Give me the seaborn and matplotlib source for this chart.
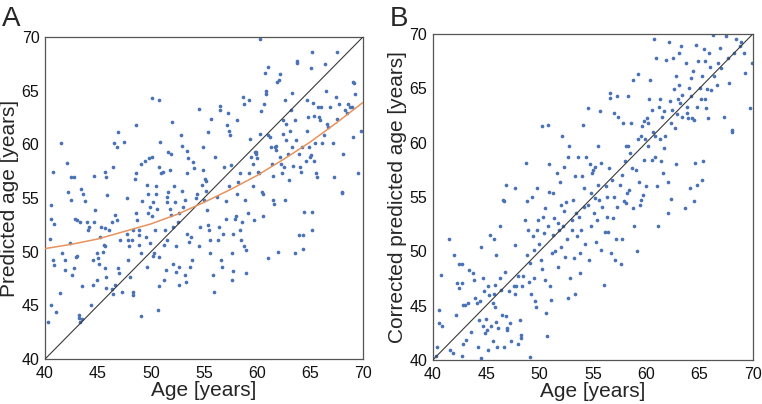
import matplotlib
matplotlib.use("Agg")
import matplotlib.pyplot as plt
import pandas as pd
import seaborn as sns

sns.set_style("white")
plt.rcParams['font.family'] = ['Liberation Sans', 'DejaVu Sans']

# Panel A: true age vs predicted age
age_a = [40.3, 40.5, 40.6, 40.8, 40.9, 40.6, 40.8, 40.9, 40.6, 41.0,
         41.5, 41.4, 41.6, 41.9, 41.9, 42.1, 42.2, 42.4, 42.5, 42.5,
         42.7, 42.6, 42.7, 42.8, 43.0, 42.9, 43.0, 43.2, 43.2, 43.3,
         43.5, 43.3, 43.4, 43.6, 43.5, 43.8, 44.0, 44.1, 44.2, 44.3,
         44.5, 44.5, 44.6, 44.7, 44.6, 44.9, 45.0, 45.1, 45.2, 44.9,
         45.3, 45.5, 45.6, 45.7, 45.7, 45.8, 45.8, 45.7, 45.8, 45.9,
         45.7, 46.0, 46.3, 46.3, 46.4, 46.6, 46.4, 46.5, 46.8, 46.9,
         46.6, 46.8, 46.9, 47.0, 47.1, 47.3, 47.5, 47.7, 47.7, 47.8,
         47.9, 47.8, 48.0, 48.2, 48.3, 48.3, 48.3, 48.5, 48.6, 48.6,
         48.6, 48.7, 48.9, 48.9, 48.9, 49.1, 49.1, 49.2, 49.1, 49.4,
         49.5, 49.6, 49.6, 49.7, 49.8, 49.7, 49.9, 49.9, 50.1, 50.1,
         50.1, 50.2, 50.2, 50.3, 50.4, 50.5, 50.5, 50.6, 50.7, 50.8,
         50.8, 50.8, 50.8, 50.9, 51.0, 51.1, 51.2, 51.2, 51.3, 51.4,
         51.5, 51.5, 51.5, 51.6, 51.6, 51.8, 51.9, 51.8, 51.9, 52.0,
         52.1, 52.1, 52.2, 52.3, 52.4, 52.4, 52.6, 52.7, 52.7, 52.7,
         52.8, 52.9, 52.9, 53.0, 53.2, 53.2, 53.3, 53.4, 53.4, 53.4,
         53.5, 53.6, 53.7, 53.8, 53.9, 54.0, 54.1, 54.3, 54.4, 54.5,
         54.5, 54.6, 54.8, 54.9, 54.9, 55.0, 55.1, 55.2, 55.2, 55.3,
         55.4, 55.4, 55.5, 55.6, 55.6, 55.7, 55.9, 56.0, 56.1, 56.2,
         56.3, 56.4, 56.5, 56.5, 56.6, 56.7, 56.8, 56.9, 57.1, 57.1,
         57.2, 57.3, 57.4, 57.4, 57.5, 57.6, 57.7, 57.7, 57.8, 57.8,
         57.9, 58.0, 58.1, 58.1, 58.2, 58.4, 58.4, 58.5, 58.6, 58.7,
         58.8, 58.8, 58.9, 59.0, 59.0, 59.2, 59.3, 59.3, 59.4, 59.5,
         59.6, 59.6, 59.7, 59.8, 59.9, 59.9, 60.0, 60.1, 60.2, 60.3,
         60.4, 60.3, 60.5, 60.6, 60.6, 60.7, 60.8, 60.9, 60.9, 61.1,
         61.1, 61.1, 61.2, 61.3, 61.4, 61.5, 61.5, 61.6, 61.7, 61.8,
         61.8, 61.9, 62.0, 62.1, 62.2, 62.2, 62.3, 62.4, 62.5, 62.5,
         62.6, 62.7, 62.7, 62.8, 62.8, 62.9, 63.0, 63.1, 63.2, 63.3,
         63.3, 63.4, 63.6, 63.6, 63.7, 63.8, 63.8, 64.0, 64.0, 64.1,
         64.2, 64.3, 64.4, 64.4, 64.5, 64.6, 64.7, 64.7, 64.8, 64.9,
         65.0, 65.1, 65.1, 65.2, 65.2, 65.2, 65.3, 65.4, 65.4, 65.5,
         65.6, 65.7, 65.8, 65.9, 66.0, 66.1, 66.2, 66.3, 66.4, 66.5,
         66.6, 66.7, 66.9, 67.2, 67.3, 67.5, 67.6, 67.6, 67.8, 68.0,
         68.0, 68.1, 68.3, 68.5, 68.6, 68.8, 69.0, 69.1, 69.2, 69.3,
         69.1, 69.6, 69.8]
pred_a = [43.5, 51.2, 54.4, 57.4, 52.6, 53.1, 49.2, 48.8, 45.0, 44.4,
          60.1, 46.2, 49.9, 48.3, 49.2, 58.3, 55.6, 50.8, 54.8, 57.0,
          57.0, 47.8, 48.5, 53.1, 53.0, 49.5, 49.6, 44.1, 43.8, 43.5,
          43.7, 52.8, 55.9, 55.4, 46.8, 54.7, 52.8, 52.0, 52.3, 45.0,
          46.9, 49.2, 52.8, 53.9, 57.1, 49.9, 49.4, 48.9, 51.4, 47.4,
          52.3, 50.0, 50.6, 50.5, 48.5, 47.7, 46.6, 57.4, 57.0, 55.3,
          52.2, 52.0, 52.8, 46.5, 46.1, 46.9, 57.9, 60.1, 59.8, 61.2,
          53.4, 53.0, 48.5, 48.0, 51.1, 46.3, 60.2, 55.0, 51.7, 51.1,
          50.5, 49.2, 47.7, 51.1, 46.3, 46.0, 52.0, 56.8, 57.3, 61.8,
          53.6, 53.0, 52.0, 51.6, 50.6, 49.9, 44.0, 54.7, 58.2, 58.5,
          51.4, 48.6, 56.2, 55.4, 58.7, 53.6, 54.2, 50.8, 58.8, 64.3,
          53.3, 54.6, 49.6, 49.9, 52.0, 56.1, 55.4, 54.0, 44.6, 46.8,
          49.5, 64.1, 57.9, 60.2, 57.3, 57.4, 47.4, 50.6, 52.0, 48.3,
          51.1, 54.6, 55.1, 55.6, 59.3, 57.6, 59.1, 54.0, 53.4, 62.1,
          52.3, 48.9, 56.1, 54.6, 48.1, 50.5, 52.8, 53.6, 46.9, 48.6,
          60.9, 59.9, 55.7, 54.2, 54.8, 47.8, 47.2, 59.4, 57.3, 51.7,
          58.7, 50.9, 48.6, 51.4, 49.2, 58.4, 57.8, 55.0, 55.4, 50.5,
          63.3, 52.3, 56.2, 57.6, 59.8, 54.8, 56.8, 56.6, 55.7, 53.9,
          61.2, 52.5, 52.0, 51.1, 49.9, 62.4, 47.8, 46.3, 58.8, 55.1,
          51.1, 52.3, 63.6, 63.2, 49.2, 48.6, 51.7, 57.9, 54.7, 53.1,
          61.8, 62.9, 61.3, 56.1, 60.9, 58.1, 49.9, 47.4, 48.2, 51.7,
          53.1, 53.3, 55.4, 62.3, 56.5, 57.3, 52.0, 51.1, 52.8, 64.4,
          63.8, 50.5, 54.8, 48.0, 50.2, 53.6, 57.3, 64.1, 60.5, 58.8,
          58.2, 56.1, 53.0, 59.3, 59.3, 59.1, 58.7, 57.4, 57.3, 61.0,
          63.1, 69.8, 55.6, 55.4, 53.3, 63.8, 66.7, 65.0, 64.7, 60.9,
          49.4, 67.2, 60.7, 59.8, 58.2, 57.1, 54.8, 54.5, 59.8, 59.5,
          59.9, 65.8, 50.0, 66.0, 58.8, 66.6, 58.2, 57.3, 62.3, 61.0,
          57.9, 54.8, 64.1, 61.9, 60.4, 59.1, 56.7, 61.3, 63.2, 64.8,
          59.8, 58.0, 49.9, 62.3, 60.4, 67.8, 67.6, 51.6, 59.1, 57.9,
          57.4, 59.8, 50.3, 51.6, 53.7, 58.5, 64.1, 61.3, 62.6, 59.8,
          58.8, 59.0, 67.1, 68.6, 53.7, 52.0, 63.9, 58.5, 62.7, 60.1,
          57.3, 57.0, 63.5, 62.6, 62.3, 63.5, 60.1, 60.9, 67.5, 65.0,
          61.9, 61.6, 63.5, 60.1, 57.0, 64.4, 68.6, 62.4, 63.8, 55.6,
          55.5, 59.1, 63.2, 62.9, 63.8, 63.5, 63.5, 65.8, 65.7, 64.7,
          60.7, 57.3, 61.3]

# fitted curve in panel A
fit_age = [40, 42.5, 45, 47.5, 50, 52.5, 55, 57.5, 60, 62.5, 65, 67.5, 70]
fit_pred = [50.3, 50.7, 51.2, 51.9, 52.6, 53.5, 54.6, 55.8, 57.1, 58.6,
            60.2, 62.0, 63.9]

# Panel B: true age vs corrected predicted age
age_b = [40.4, 40.3, 40.6, 40.6, 40.8, 40.9, 41.5, 41.6, 41.9, 42.0,
         42.2, 42.3, 42.5, 42.5, 42.7, 42.7, 42.7, 42.8, 43.0, 42.8,
         43.1, 43.3, 43.4, 43.6, 43.8, 43.9, 44.0, 44.1, 44.2, 44.3,
         44.4, 44.5, 44.5, 44.7, 44.7, 44.8, 44.9, 45.0, 45.1, 45.2,
         45.2, 45.3, 45.4, 45.5, 45.6, 45.6, 45.7, 45.7, 45.8, 45.8,
         45.9, 45.9, 46.0, 46.1, 46.3, 46.3, 46.4, 46.5, 46.6, 46.7,
         46.7, 46.8, 46.9, 46.9, 47.0, 47.0, 47.1, 47.2, 47.3, 47.6,
         47.7, 47.7, 47.7, 47.8, 48.0, 48.0, 48.2, 48.3, 48.3, 48.4,
         48.5, 48.6, 48.7, 48.8, 48.8, 48.9, 49.0, 49.1, 49.1, 49.2,
         49.3, 49.4, 49.5, 49.5, 49.6, 49.7, 49.8, 49.8, 49.9, 50.0,
         50.1, 50.2, 50.2, 50.3, 50.4, 50.5, 50.5, 50.6, 50.7, 50.8,
         50.8, 50.9, 50.9, 51.0, 51.1, 51.2, 51.3, 51.3, 51.4, 51.5,
         51.6, 51.7, 51.7, 51.8, 51.9, 52.0, 52.0, 52.1, 52.2, 52.3,
         52.3, 52.4, 52.5, 52.6, 52.7, 52.7, 52.8, 52.9, 53.0, 53.0,
         53.1, 53.2, 53.3, 53.3, 53.4, 53.5, 53.6, 53.7, 53.8, 53.8,
         53.9, 54.0, 54.1, 54.2, 54.2, 54.3, 54.4, 54.5, 54.5, 54.6,
         54.7, 54.8, 54.8, 54.9, 55.0, 55.1, 55.2, 55.2, 55.3, 55.4,
         55.5, 55.5, 55.6, 55.7, 55.8, 55.8, 55.9, 56.0, 56.1, 56.2,
         56.3, 56.3, 56.4, 56.5, 56.6, 56.6, 56.7, 56.8, 56.9, 57.0,
         57.0, 57.1, 57.2, 57.3, 57.3, 57.4, 57.5, 57.6, 57.7, 57.7,
         57.8, 57.9, 58.0, 58.1, 58.1, 58.2, 58.3, 58.3, 58.4, 58.5,
         58.6, 58.7, 58.8, 58.8, 58.9, 59.0, 59.1, 59.2, 59.2, 59.3,
         59.4, 59.5, 59.5, 59.6, 59.7, 59.8, 59.8, 59.9, 60.0, 60.1,
         60.2, 60.2, 60.3, 60.4, 60.5, 60.5, 60.6, 60.7, 60.8, 60.8,
         60.9, 61.0, 61.1, 61.2, 61.3, 61.3, 61.4, 61.5, 61.6, 61.7,
         61.7, 61.8, 61.9, 62.0, 62.0, 62.1, 62.2, 62.3, 62.3, 62.4,
         62.5, 62.6, 62.7, 62.8, 62.8, 62.9, 63.0, 63.1, 63.1, 63.2,
         63.3, 63.4, 63.4, 63.6, 63.7, 63.8, 63.8, 63.9, 64.0, 64.1,
         64.2, 64.2, 64.3, 64.4, 64.5, 64.5, 64.6, 64.7, 64.8, 64.8,
         64.9, 65.0, 65.1, 65.2, 65.2, 65.3, 65.4, 65.5, 65.5, 65.6,
         65.7, 65.8, 65.9, 66.0, 66.1, 66.3, 66.4, 66.6, 66.7, 66.9,
         67.0, 67.3, 67.5, 67.7, 67.8, 68.0, 68.0, 68.2, 68.4, 68.8,
         68.9, 69.2, 69.3, 69.7, 69.9]
pred_b = [41.2, 40.4, 44.6, 43.4, 47.8, 43.1, 51.1, 40.9, 40.6, 49.7,
          44.1, 47.1, 46.6, 48.8, 48.8, 40.4, 47.1, 45.1, 45.1, 41.5,
          41.8, 45.2, 48.3, 42.6, 48.0, 47.4, 45.7, 45.2, 41.2, 43.7,
          45.4, 50.4, 40.2, 43.1, 47.5, 46.3, 42.5, 43.8, 42.8, 40.9,
          46.8, 46.0, 51.5, 43.1, 45.2, 41.7, 51.1, 46.1, 46.9, 44.9,
          49.7, 43.5, 41.2, 42.9, 47.5, 52.3, 46.4, 44.1, 54.7, 41.2,
          54.6, 48.1, 56.1, 44.0, 42.9, 42.8, 46.3, 43.4, 41.7, 46.8,
          55.8, 50.6, 46.1, 46.8, 41.5, 47.7, 43.7, 42.3, 42.0, 46.8,
          47.7, 52.9, 58.1, 49.7, 54.6, 52.0, 47.2, 48.9, 40.3, 46.1,
          55.0, 51.4, 47.5, 50.1, 45.4, 44.9, 52.0, 55.8, 52.9, 50.7,
          49.2, 61.5, 48.4, 53.2, 51.7, 54.0, 47.4, 44.3, 42.2, 52.3,
          61.6, 58.0, 55.5, 46.8, 45.5, 49.8, 51.5, 55.4, 53.1, 50.0,
          57.2, 52.6, 48.6, 52.0, 56.4, 54.3, 50.4, 60.6, 52.3, 53.7,
          57.8, 49.5, 54.5, 51.1, 45.7, 58.7, 59.7, 47.5, 52.9, 52.0,
          54.7, 49.4, 56.9, 46.1, 53.5, 51.4, 58.7, 53.2, 49.8, 48.0,
          52.0, 56.9, 61.6, 54.1, 55.8, 50.7, 58.7, 63.2, 54.3, 49.2,
          58.0, 55.4, 52.3, 57.2, 57.5, 53.5, 54.9, 57.8, 50.9, 52.9,
          56.1, 59.7, 54.7, 62.9, 50.1, 58.1, 54.1, 46.9, 51.8, 56.0,
          53.2, 55.0, 51.8, 57.7, 64.6, 64.1, 49.8, 56.6, 53.1, 55.0,
          62.7, 49.2, 51.1, 54.1, 64.3, 62.4, 56.1, 48.8, 51.1, 57.0,
          61.8, 54.6, 58.3, 59.7, 54.4, 55.4, 64.3, 59.7, 55.6, 59.0,
          61.8, 57.7, 54.0, 65.8, 52.3, 57.5, 50.0, 60.3, 66.3, 56.4,
          54.3, 60.6, 54.7, 61.5, 55.2, 62.0, 58.4, 60.3, 56.0, 62.3,
          59.7, 61.8, 64.0, 65.8, 58.4, 63.0, 61.0, 69.5, 58.7, 60.6,
          67.8, 56.0, 52.3, 63.3, 60.3, 64.0, 58.3, 62.4, 57.2, 62.9,
          59.5, 60.6, 67.6, 56.4, 53.5, 69.3, 63.8, 54.8, 61.8, 63.0,
          67.8, 64.9, 61.3, 66.1, 58.0, 62.6, 64.0, 65.3, 68.2, 63.6,
          68.9, 62.4, 64.4, 54.0, 67.3, 62.7, 63.3, 62.3, 65.0, 55.8,
          65.9, 64.3, 62.3, 66.6, 62.1, 54.6, 58.1, 69.0, 56.1, 63.3,
          67.5, 65.0, 64.0, 66.1, 56.6, 58.3, 68.6, 64.0, 67.5, 63.2,
          64.9, 62.3, 68.2, 67.0, 64.8, 69.9, 66.1, 65.3, 67.3, 68.7,
          66.9, 62.4, 69.8, 67.8, 65.5, 61.0, 61.2, 68.2, 69.5, 68.9,
          69.3, 68.2, 66.4, 63.2, 67.3]

identity = [40, 70]
ticks = [40, 45, 50, 55, 60, 65, 70]

dot_color = '#4a72b5'
fig = plt.figure(figsize=(7.62, 4.04), dpi=100)
ax_a = fig.add_axes([0.059, 0.111, 0.417, 0.797])
ax_b = fig.add_axes([0.568, 0.109, 0.420, 0.807])

df_a = pd.DataFrame({'age': age_a, 'pred': pred_a})
df_b = pd.DataFrame({'age': age_b, 'pred': pred_b})

sns.scatterplot(data=df_a, x='age', y='pred', ax=ax_a, s=7,
                color=dot_color, linewidth=0, zorder=2)
sns.lineplot(x=identity, y=identity, ax=ax_a, color='#3a3a3a',
             linewidth=0.8, zorder=3)
sns.lineplot(x=fit_age, y=fit_pred, ax=ax_a, color='#e8925c',
             linewidth=1.1, zorder=4)

sns.scatterplot(data=df_b, x='age', y='pred', ax=ax_b, s=7,
                color=dot_color, linewidth=0, zorder=2)
sns.lineplot(x=identity, y=identity, ax=ax_b, color='#3a3a3a',
             linewidth=0.8, zorder=3)

for ax, ylab in [(ax_a, 'Predicted age [years]'),
                 (ax_b, 'Corrected predicted age [years]')]:
    ax.set_xlim(40, 70)
    ax.set_ylim(40, 70)
    ax.set_xticks(ticks)
    ax.set_yticks(ticks)
    ax.tick_params(length=0, labelsize=11.5, colors='#111111')
    ax.tick_params(axis='x', pad=5)
    ax.tick_params(axis='y', pad=4)
    ax.set_xlabel('Age [years]', fontsize=15, labelpad=0)
    ax.set_ylabel(ylab, fontsize=15, labelpad=2)
    for sp in ax.spines.values():
        sp.set_color('#555555')
        sp.set_linewidth(0.9)

fig.text(0.002, 0.935, 'A', fontsize=20)
fig.text(0.512, 0.935, 'B', fontsize=20)

plt.savefig('out.png', dpi=100)
